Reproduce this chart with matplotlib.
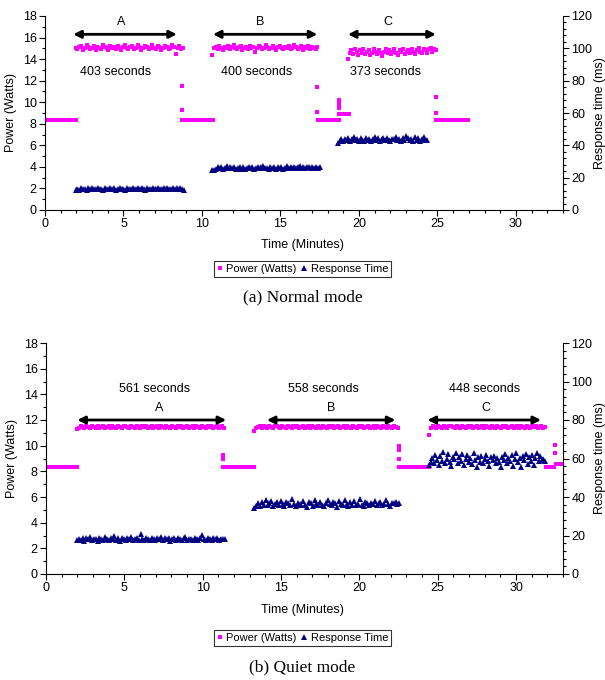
import numpy as np
import matplotlib
matplotlib.use("Agg")
import matplotlib.pyplot as plt
from matplotlib.ticker import MultipleLocator

plt.rcParams['font.family'] = ['Liberation Sans', 'DejaVu Sans']

PINK = '#ff00ff'
NAVY = '#000080'

# ---------------- (a) Normal mode ----------------
# power in watts, response time in ms; each run is (start min, end min, values)
n_pow_idle1 = [8.35, 8.35, 8.35, 8.35, 8.35, 8.35, 8.35, 8.35, 8.35, 8.35, 8.35, 8.35, 8.35, 8.35]
n_pow_A = [15.0, 14.9, 15.1, 15.2, 14.8, 15.0, 15.3, 15.1, 14.9, 15.0, 15.2, 14.8, 15.1, 15.0, 14.9,
           15.3, 15.1, 15.0, 14.8, 15.2, 15.0, 15.1, 14.9, 15.2, 15.0, 14.8, 15.1, 15.3, 15.0, 14.9,
           15.1, 15.2, 14.9, 15.0, 15.3, 15.1, 14.8, 15.0, 15.2, 15.1, 14.9, 15.0, 15.3, 15.0, 14.9,
           15.2, 15.1, 14.8, 15.0, 15.2, 15.1, 14.9, 15.0, 15.3, 15.1, 14.5, 15.0, 15.2, 14.9, 15.0]
n_pow_trans1 = [11.5, 9.28]
n_pow_idle2 = [8.33, 8.33, 8.33, 8.33, 8.33, 8.33, 8.33, 8.33, 8.33, 8.33, 8.33, 8.33, 8.33]
n_pow_B = [14.4, 15.0, 15.1, 14.9, 15.2, 15.0, 14.8, 15.1, 15.0, 15.2, 14.9, 15.1, 15.3, 15.0, 14.9,
           15.1, 15.2, 14.8, 15.0, 15.1, 14.9, 15.2, 15.0, 15.1, 14.7, 15.0, 15.2, 15.1, 14.9, 15.0,
           15.3, 15.1, 14.9, 15.0, 15.2, 15.0, 14.8, 15.1, 15.2, 15.0, 14.9, 15.1, 15.0, 15.2, 14.9,
           15.0, 15.3, 15.1, 14.9, 15.0, 15.2, 14.8, 15.1, 15.0, 15.2, 14.9, 15.1, 15.0, 14.9, 15.1]
n_pow_trans2 = [11.38, 9.09]
n_pow_idle3 = [8.33, 8.33, 8.33, 8.33, 8.33, 8.33, 8.33, 8.33, 8.33]
n_pow_trans3 = [10.2, 9.8, 9.45]
n_pow_step = [8.95, 8.95, 8.95, 8.95, 8.95]
n_pow_C = [14.05, 14.6, 14.8, 14.5, 14.9, 14.7, 14.4, 14.8, 14.6, 14.9, 14.5, 14.7, 14.8, 14.4, 14.6,
           14.9, 14.7, 14.5, 14.8, 14.6, 14.3, 14.7, 14.9, 14.6, 14.8, 14.5, 14.7, 14.9, 14.6, 14.4,
           14.8, 14.7, 14.9, 14.5, 14.7, 14.8, 14.6, 14.9, 14.7, 14.5, 14.8, 15.0, 14.7, 14.6, 14.9,
           14.8, 14.6, 14.9, 15.0, 14.7, 14.9, 14.8]
n_pow_trans4 = [10.5, 9.0]
n_pow_idle4 = [8.33, 8.33, 8.33, 8.33, 8.33, 8.33, 8.33, 8.33, 8.33, 8.33, 8.33, 8.33, 8.33, 8.33]

n_rt_A = [12.5, 13.0, 12.6, 13.4, 12.8, 13.1, 12.4, 13.3, 12.9, 13.5, 12.7, 13.0, 13.6, 12.8, 13.2,
          12.5, 13.4, 13.0, 12.7, 13.3, 12.9, 13.6, 12.6, 13.1, 13.4, 12.8, 13.2, 12.5, 13.5, 13.0,
          12.9, 13.7, 12.7, 13.2, 13.4, 12.8, 13.6, 13.0, 12.6, 13.3, 13.1, 12.9, 13.8, 12.7, 13.2,
          13.5, 12.9, 13.1, 13.6, 12.8, 13.4, 13.0, 12.7, 13.5, 13.2, 13.9, 12.9, 13.3, 13.0, 12.6]
n_rt_B = [24.5, 25.0, 25.6, 26.3, 25.8, 26.6, 25.4, 26.1, 27.0, 25.7, 26.4, 25.9, 26.8, 25.5, 26.2,
          26.9, 25.6, 26.3, 25.2, 26.0, 26.7, 25.8, 26.5, 25.3, 26.1, 26.8, 25.7, 26.4, 27.2, 25.9,
          26.2, 25.5, 26.7, 26.0, 26.9, 25.6, 26.3, 25.8, 26.6, 25.4, 26.2, 27.1, 25.9, 26.5, 26.0,
          26.8, 25.7, 26.4, 27.0, 26.1, 26.6, 25.8, 26.9, 26.3, 25.9, 26.7, 26.2, 26.5, 25.8, 26.4]
n_rt_C = [41.5, 42.5, 43.8, 42.9, 44.2, 43.1, 44.6, 42.7, 43.9, 45.0, 43.3, 44.1, 42.8, 44.5, 43.6,
          42.9, 44.8, 43.4, 44.0, 42.6, 43.7, 45.1, 43.2, 44.3, 42.8, 43.9, 44.7, 43.0, 44.4, 43.5,
          42.7, 44.2, 43.8, 45.2, 43.1, 44.0, 42.9, 44.6, 43.3, 46.0, 44.8, 43.2, 44.1, 42.8, 45.3,
          43.6, 44.4, 42.9, 43.8, 44.9, 43.4, 43.0]

n_pow_runs = [(0.0, 2.0, n_pow_idle1), (1.95, 8.8, n_pow_A), (8.75, 8.75, n_pow_trans1),
              (8.75, 10.7, n_pow_idle2), (10.65, 17.35, n_pow_B), (17.36, 17.36, n_pow_trans2),
              (17.4, 18.7, n_pow_idle3), (18.72, 18.72, n_pow_trans3), (18.75, 19.35, n_pow_step),
              (19.3, 24.9, n_pow_C), (24.88, 24.88, n_pow_trans4), (24.9, 26.95, n_pow_idle4)]
n_rt_runs = [(1.95, 8.85, n_rt_A), (10.65, 17.5, n_rt_B), (18.65, 24.35, n_rt_C)]
n_spans = [(1.8, 8.4), (10.7, 17.35), (19.3, 24.9)]
n_letters = ['A', 'B', 'C']
n_seconds = ['403 seconds', '400 seconds', '373 seconds']

# ---------------- (b) Quiet mode ----------------
q_pow_idle1 = [8.32, 8.32, 8.32, 8.32, 8.32, 8.32, 8.32, 8.32, 8.32, 8.32, 8.32, 8.32, 8.32, 8.32]
q_pow_A = [11.3, 11.4, 11.5, 11.45, 11.35, 11.5, 11.45, 11.4, 11.55, 11.45, 11.4, 11.5, 11.35, 11.45,
           11.5, 11.4, 11.45, 11.55, 11.4, 11.5, 11.45, 11.35, 11.5, 11.45, 11.4, 11.5, 11.55, 11.45,
           11.4, 11.5, 11.45, 11.35, 11.5, 11.45, 11.4, 11.55, 11.45, 11.5, 11.4, 11.45, 11.5, 11.35,
           11.45, 11.5, 11.4, 11.55, 11.45, 11.4, 11.5, 11.45, 11.35, 11.5, 11.45, 11.4, 11.55, 11.45,
           11.5, 11.4, 11.45, 11.5, 11.35, 11.45, 11.55, 11.4, 11.5, 11.45, 11.4, 11.5, 11.45, 11.35,
           11.5, 11.45, 11.55, 11.4, 11.45, 11.5, 11.4, 11.45, 11.5, 11.4]
q_pow_trans1 = [9.25, 8.95]
q_pow_idle2 = [8.32, 8.32, 8.32, 8.32, 8.32, 8.32, 8.32, 8.32, 8.32, 8.32, 8.32, 8.32, 8.32, 8.32]
q_pow_B = [11.15, 11.4, 11.45, 11.5, 11.4, 11.55, 11.45, 11.35, 11.5, 11.45, 11.4, 11.5, 11.55, 11.45,
           11.4, 11.5, 11.45, 11.35, 11.5, 11.45, 11.4, 11.55, 11.45, 11.5, 11.4, 11.45, 11.5, 11.35,
           11.45, 11.5, 11.4, 11.55, 11.45, 11.4, 11.5, 11.45, 11.35, 11.5, 11.45, 11.4, 11.55, 11.45,
           11.5, 11.4, 11.45, 11.5, 11.35, 11.45, 11.55, 11.4, 11.5, 11.45, 11.4, 11.5, 11.45, 11.35,
           11.5, 11.45, 11.55, 11.4, 11.45, 11.5, 11.4, 11.45, 11.5, 11.4, 11.55, 11.45, 11.4, 11.5,
           11.45, 11.35, 11.5, 11.45, 11.4, 11.5, 11.45, 11.4]
q_pow_trans2 = [9.95, 9.7, 8.95]
q_pow_idle3 = [8.32, 8.32, 8.32, 8.32, 8.32, 8.32, 8.32, 8.32, 8.32, 8.32, 8.32, 8.32, 8.32, 8.32]
q_pow_C = [10.85, 11.4, 11.5, 11.45, 11.4, 11.55, 11.45, 11.35, 11.5, 11.45, 11.4, 11.5, 11.55, 11.45,
           11.4, 11.5, 11.45, 11.35, 11.5, 11.45, 11.4, 11.55, 11.45, 11.5, 11.4, 11.45, 11.5, 11.35,
           11.45, 11.5, 11.4, 11.55, 11.45, 11.4, 11.5, 11.45, 11.35, 11.5, 11.45, 11.4, 11.55, 11.45,
           11.5, 11.4, 11.45, 11.5, 11.35, 11.45, 11.55, 11.4, 11.5, 11.45, 11.4, 11.5, 11.45, 11.35,
           11.5, 11.45, 11.55, 11.4, 11.45, 11.5, 11.4, 11.45]
q_pow_idle4 = [8.32, 8.32, 8.32, 8.32, 8.32, 8.32, 8.32]
q_pow_trans3 = [10.05, 9.4]
q_pow_tail = [8.6, 8.6, 8.6, 8.6]

q_rt_A = [17.5, 18.3, 17.8, 18.9, 17.4, 18.6, 18.0, 19.2, 17.6, 18.4, 18.1, 17.3, 18.8, 18.2, 17.7,
          19.0, 18.4, 17.5, 18.7, 18.1, 19.5, 17.9, 18.5, 17.4, 18.9, 18.2, 17.8, 18.6, 18.0, 19.1,
          17.6, 18.4, 18.8, 17.7, 21.0, 18.3, 17.9, 18.7, 18.1, 17.5, 18.9, 18.4, 17.8, 18.6, 18.2,
          19.3, 17.6, 18.5, 18.0, 18.8, 17.4, 18.3, 18.9, 17.7, 18.5, 18.1, 17.9, 18.7, 19.2, 17.6,
          18.4, 18.0, 17.5, 18.8, 18.2, 17.8, 18.6, 20.5, 18.1, 17.7, 18.9, 18.3, 17.6, 18.5, 18.0,
          18.8, 17.9, 18.4, 18.2, 18.0]
q_rt_B = [34.5, 35.5, 36.8, 35.2, 37.4, 36.0, 38.5, 35.6, 36.9, 37.8, 35.3, 36.6, 37.2, 35.8, 38.0,
          36.3, 35.1, 37.5, 36.7, 35.9, 38.8, 36.2, 35.4, 37.1, 36.5, 35.7, 37.9, 36.0, 34.6, 37.3,
          36.8, 35.5, 38.2, 36.4, 35.8, 37.6, 36.1, 35.2, 37.0, 38.6, 36.3, 35.6, 37.4, 36.9, 35.0,
          37.7, 36.2, 35.8, 38.3, 36.6, 35.4, 37.2, 36.0, 37.8, 35.7, 36.5, 38.9, 36.1, 35.3, 37.5,
          36.8, 35.9, 37.1, 36.4, 38.1, 35.6, 36.9, 37.3, 35.8, 36.6, 38.4, 36.2, 35.5, 37.0, 36.7,
          37.6, 36.3, 36.8]
q_rt_C = [56.5, 58.0, 60.5, 57.8, 62.0, 59.0, 56.8, 61.5, 58.5, 63.5, 57.5, 60.0, 62.5, 58.2, 56.0,
          61.0, 59.5, 63.0, 57.6, 60.8, 58.8, 62.2, 56.7, 59.8, 61.8, 58.0, 60.3, 57.3, 62.6, 59.2,
          55.5, 60.6, 58.4, 61.2, 57.9, 59.6, 62.0, 58.6, 56.3, 60.9, 59.1, 61.5, 57.7, 60.2, 58.3,
          55.8, 61.0, 59.4, 62.4, 57.5, 60.5, 58.9, 61.7, 56.2, 59.7, 62.8, 58.1, 60.4, 55.6, 61.3,
          59.0, 62.1, 57.4, 60.7, 58.7, 61.9, 56.5, 60.1, 62.7, 58.5, 61.4, 59.3, 60.0, 58.8]

q_pow_runs = [(0.0, 2.0, q_pow_idle1), (1.98, 11.38, q_pow_A), (11.3, 11.3, q_pow_trans1),
              (11.3, 13.25, q_pow_idle2), (13.3, 22.45, q_pow_B), (22.5, 22.5, q_pow_trans2),
              (22.5, 24.45, q_pow_idle3), (24.45, 31.85, q_pow_C), (31.9, 32.45, q_pow_idle4),
              (32.5, 32.5, q_pow_trans3), (32.55, 32.9, q_pow_tail)]
q_rt_runs = [(1.98, 11.4, q_rt_A), (13.3, 22.55, q_rt_B), (24.45, 31.85, q_rt_C)]
q_spans = [(2.0, 11.5), (14.1, 22.3), (24.35, 31.6)]
q_letters = ['A', 'B', 'C']
q_seconds = ['561 seconds', '558 seconds', '448 seconds']

SQ_MS = 3.1
TRI_MS = 4.6


def draw_panel(rect, pow_runs, rt_runs, spans, letters, seconds, arrow_y, letter_y, sec_y,
               letter_x, sec_x, xlabel_y, legend_y, caption, caption_y):
    ax = fig.add_axes(rect)
    ax2 = ax.twinx()
    for t0, t1, vals in pow_runs:
        ax.plot(np.linspace(t0, t1, len(vals)), vals, ls='none', marker='s', ms=SQ_MS,
                mec=PINK, mfc=PINK, mew=0)
    for t0, t1, vals in rt_runs:
        ax2.plot(np.linspace(t0, t1, len(vals)), vals, ls='none', marker='^', ms=TRI_MS,
                 mec=NAVY, mfc=NAVY, mew=0)

    ax.set_xlim(0, 33)
    ax.set_ylim(0, 18)
    ax2.set_ylim(0, 120)
    ax.xaxis.set_major_locator(MultipleLocator(5))
    ax.xaxis.set_minor_locator(MultipleLocator(1))
    ax.yaxis.set_major_locator(MultipleLocator(2))
    ax.yaxis.set_minor_locator(MultipleLocator(1))
    ax2.yaxis.set_major_locator(MultipleLocator(20))
    ax2.yaxis.set_minor_locator(MultipleLocator(4))
    for a in (ax, ax2):
        a.spines['top'].set_visible(False)
        a.tick_params(which='major', length=4, width=0.8, labelsize=9, pad=2)
        a.tick_params(which='minor', length=2.5, width=0.8)
    ax.spines['right'].set_visible(False)
    ax2.spines['left'].set_visible(False)
    ax2.spines['bottom'].set_visible(False)

    ax.set_ylabel('Power (Watts)', fontsize=9, labelpad=4)
    ax2.set_ylabel('Response time (ms)', fontsize=9, labelpad=1)
    fig.text(0.5, xlabel_y, 'Time (Minutes)', ha='center', va='center', fontsize=9)

    for (x0, x1), let, sec, lx, sx in zip(spans, letters, seconds, letter_x, sec_x):
        ax.annotate('', xy=(x1, arrow_y), xytext=(x0, arrow_y),
                    arrowprops=dict(arrowstyle='<|-|>', color='black', lw=2,
                                    mutation_scale=11, shrinkA=0, shrinkB=0))
        ax.text(lx, letter_y, let, ha='center', va='center', fontsize=9)
        ax.text(sx, sec_y, sec, ha='center', va='center', fontsize=9)

    h1 = plt.Line2D([], [], ls='none', marker='s', ms=SQ_MS, color=PINK, mew=0)
    h2 = plt.Line2D([], [], ls='none', marker='^', ms=TRI_MS, color=NAVY, mew=0)
    leg = fig.legend([h1, h2], ['Power (Watts)', 'Response Time'], loc='center',
                     bbox_to_anchor=(0.5, legend_y), ncol=2, fontsize=8, frameon=True,
                     fancybox=False, edgecolor='black', handlelength=0.6, handletextpad=0.3,
                     columnspacing=0.4, borderpad=0.25, borderaxespad=0)
    leg.get_frame().set_linewidth(0.8)
    fig.text(0.5, caption_y, caption, ha='center', va='center', fontsize=12.5,
             family=['Liberation Serif', 'DejaVu Serif'])


fig = plt.figure(figsize=(6.05, 6.8), dpi=100)

draw_panel([45 / 605, 1 - 210 / 680, 518 / 605, 194 / 680], n_pow_runs, n_rt_runs, n_spans,
           n_letters, n_seconds, arrow_y=16.3, letter_y=17.4, sec_y=12.8,
           letter_x=[4.85, 13.7, 21.85], sec_x=[4.5, 13.5, 21.7],
           xlabel_y=1 - 245 / 680, legend_y=1 - 269 / 680, caption='(a) Normal mode',
           caption_y=1 - 297 / 680)

draw_panel([46 / 605, 1 - 574 / 680, 517 / 605, 231 / 680], q_pow_runs, q_rt_runs, q_spans,
           q_letters, q_seconds, arrow_y=12.0, letter_y=12.9, sec_y=14.4,
           letter_x=[7.2, 18.2, 28.1], sec_x=[6.9, 17.7, 28.0],
           xlabel_y=1 - 610 / 680, legend_y=1 - 638 / 680, caption='(b) Quiet mode',
           caption_y=1 - 667 / 680)

fig.savefig('out.png', dpi=100)
